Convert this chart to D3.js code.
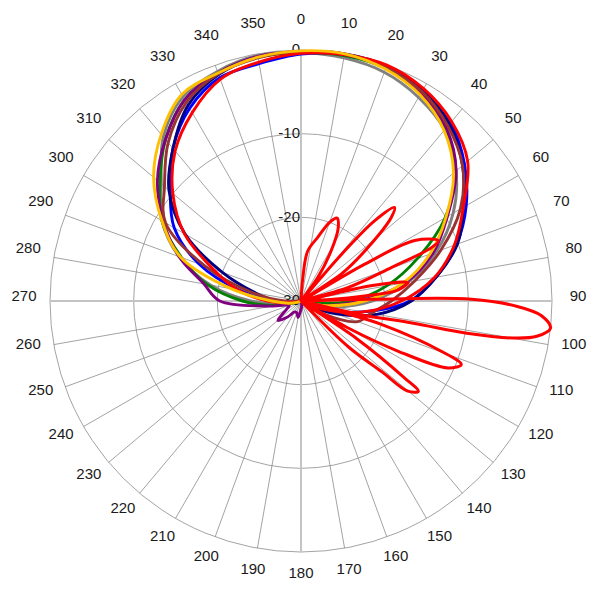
<!DOCTYPE html>
<html>
<head>
<meta charset="utf-8">
<script src="https://cdn.jsdelivr.net/npm/d3@7"></script>
<style>
  body { margin: 0; background: #fff; }
  svg { display: block; }
</style>
</head>
<body>
<svg id="chart"></svg>
<script>
const width = 600;
const height = 600;
const cx = 301, cy = 301, outerR = 251;

// angle categories (degrees, clockwise from top)
const angles = [0, 10, 20, 30, 40, 50, 60, 70, 80, 90, 100, 110, 120, 130, 140, 150, 160, 170,
  180, 190, 200, 210, 220, 230, 240, 250, 260, 270, 280, 290, 300, 310, 320, 330, 340, 350];

// radial ticks (dB)
const levelTicks = [-30, -20, -10, 0];

// levels in dB for each trace, one per angle above
const grayLevels = [-0.3, -0.5, -0.9, -1.9, -3.3, -5.8, -9.0, -12.8, -17.0, -21.5, -26, -29, -30, -30, -30, -30, -30, -30,
  -30, -30, -30, -30, -30, -30, -30, -30, -28, -24, -19, -14.5, -10.8, -8.2, -4.4, -1.8, -0.8, -0.2];
const blueLevels = [-0.5, -0.1, -0.2, -0.8, -2.2, -4.5, -7.2, -10.2, -13.6, -17.0, -22.5, -27, -30, -30, -30, -30, -30, -30,
  -30, -30, -30, -30, -30, -30, -30, -30, -29.5, -27, -22.5, -17.0, -12.5, -9.6, -6.2, -3.4, -1.6, -1.2];
const navyLevels = [-0.2, 0, -0.1, -0.9, -2.4, -4.8, -7.6, -10.1, -13.6, -16.8, -20.8, -25.5, -29, -30, -30, -30, -30, -30,
  -30, -30, -30, -30, -30, -30, -30, -30, -29.5, -27, -24.5, -20, -14.0, -9.4, -6.2, -3.0, -1.2, -0.4];
const purpleLevels = [-0.2, -0.1, -0.3, -1.3, -3.0, -5.8, -9.8, -13.2, -17.3, -23, -27, -29.5, -30, -30, -30, -30, -30, -29.5,
  -29, -28, -28.5, -28.5, -27.5, -26.4, -28, -28.5, -26.5, -20.3, -18.2, -14.5, -11.0, -7.6, -4.8, -2.2, -1.0, -0.3];
const greenLevels = [-0.3, -0.2, -0.4, -1.4, -3.2, -6.0, -10.1, -15.2, -19.6, -24, -28.5, -30, -30, -30, -30, -30, -30, -30,
  -30, -30, -30, -30, -30, -30, -30, -30, -27, -23, -18.6, -14.8, -10.8, -8.0, -4.8, -2.2, -1.0, -0.4];
const brownLevels = [-0.2, 0, -0.3, -1.1, -2.7, -4.8, -8.0, -12.2, -16.2, -19.2, -21.5, -22.8, -27, -30, -30, -30, -30, -30,
  -30, -30, -30, -30, -30, -30, -30, -30, -30, -28, -24, -17.8, -11.3, -8.7, -5.3, -2.6, -1.1, -0.5];
const redLevels = [-0.4, -0.1, 0, -0.7, -2.0, -4.0, -7.6, -10.5, -13.8, -18, -22.5, -27, -30, -30, -30, -30, -30, -30,
  -30, -30, -30, -30, -30, -30, -30, -30, -29, -26, -22.3, -18.8, -13.9, -10.0, -6.6, -4.0, -1.8, -1.0];
const goldLevels = [-0.1, 0, -0.5, -1.55, -3.4, -6.2, -10.0, -13.6, -17.6, -22.4, -26.8, -29.5, -30, -30, -30, -30, -30, -30,
  -30, -30, -30, -30, -30, -30, -30, -29.5, -28.5, -26.5, -21.5, -14.7, -10.8, -7.0, -4.0, -1.5, -1.0, -0.4];

// the array trace with its narrow side lobes (angle, dB)
const lobeAngles = [0, 3, 4.5, 7.6, 14.8, 20, 23.5, 27, 31, 35.6, 38,
  40.5, 41.2, 42.5, 45, 47.2, 51.4, 56, 59,
  60, 62, 66.3, 67.7, 69.7, 74, 77,
  77.5, 78.5, 80.3, 82.5, 84, 85.5, 87, 88.3,
  88.6, 89.4, 91.3, 93.5, 96.2, 98.5, 99.9, 101, 101.2, 103, 104.5,
  105.5, 106.2, 109.7, 111.6, 114.5, 117.3, 119.8, 121.5,
  124, 126.6, 127.6, 130.2, 131.2, 134, 137,
  180, 270];
const lobeLevels = [-30, -30, -27.2, -24, -22.1, -20, -19.2, -20.2, -23, -26.6, -30,
  -26.3, -21.5, -17, -14.2, -15.3, -19.8, -24, -30,
  -21.2, -14.6, -12.1, -13.1, -18.5, -24.2, -30,
  -22, -19.5, -17, -17.8, -18.7, -22.4, -26.5, -30,
  -22, -9.6, -4.4, -1.2, 0, -1.5, -4.3, -9.8, -16.3, -23, -30,
  -24.5, -20, -12.2, -9.4, -10.7, -16.9, -23.5, -30,
  -22, -14.6, -12.3, -13.3, -17.2, -22, -30,
  -30, -30];

const traces = [
  {name: "gray", color: "#808080", values: grayLevels},
  {name: "blue", color: "#0000ff", values: blueLevels},
  {name: "navy", color: "#000080", values: navyLevels},
  {name: "green", color: "#008000", values: greenLevels},
  {name: "purple", color: "#800080", values: purpleLevels},
  {name: "brown", color: "#993333", values: brownLevels},
  {name: "red", color: "#ff0000", values: redLevels},
  {name: "gold", color: "#ffc000", values: goldLevels}
];

const svg = d3.select("#chart")
  .attr("width", width)
  .attr("height", height)
  .attr("viewBox", [0, 0, width, height])
  .style("font-family", "Arial, 'Liberation Sans', sans-serif");

const g = svg.append("g").attr("transform", `translate(${cx},${cy})`);

// radial scale: -30 dB at the centre, 0 dB on the outer ring
const r = d3.scaleLinear().domain([-30, 0]).range([0, outerR]).clamp(true);
const rad = d => d * Math.PI / 180;

// rings
g.append("g")
  .selectAll("circle")
  .data(levelTicks.filter(d => d > -30))
  .join("circle")
  .attr("r", d => r(d))
  .attr("fill", "none")
  .attr("stroke", "#8c8c8c")
  .attr("stroke-width", 0.8);

// spokes every 10 degrees, main axes lighter and wider
g.append("g")
  .selectAll("line")
  .data(angles)
  .join("line")
  .attr("x2", d => outerR * Math.sin(rad(d)))
  .attr("y2", d => -outerR * Math.cos(rad(d)))
  .attr("stroke", d => d % 90 === 0 ? "#c4c4c4" : "#8c8c8c")
  .attr("stroke-width", d => d % 90 === 0 ? 2 : 0.8);

// angle labels
g.append("g")
  .attr("font-size", 15)
  .attr("fill", "#1a1a1a")
  .attr("text-anchor", "middle")
  .selectAll("text")
  .data(angles)
  .join("text")
  .attr("x", d => 277 * Math.sin(rad(d)))
  .attr("y", d => -277 * Math.cos(rad(d)) - 5.5)
  .attr("dy", "0.35em")
  .text(d => d);

// level labels along the 0 degree axis
g.append("g")
  .attr("font-size", 15)
  .attr("fill", "#1a1a1a")
  .attr("text-anchor", "end")
  .selectAll("text")
  .data(levelTicks)
  .join("text")
  .attr("x", -1)
  .attr("y", d => -r(d) - 1)
  .attr("dy", "0.35em")
  .text(d => d);

// traces
const line = d3.lineRadial()
  .angle(d => rad(d[0]))
  .radius(d => r(d[1]))
  .curve(d3.curveCatmullRomClosed.alpha(0.5));

g.append("g")
  .attr("fill", "none")
  .attr("stroke-linejoin", "round")
  .selectAll("path")
  .data(traces)
  .join("path")
  .attr("stroke", d => d.color)
  .attr("stroke-width", 2.9)
  .attr("d", d => line(angles.map((a, i) => [a, d.values[i]])));

// array trace on top
g.append("path")
  .attr("fill", "none")
  .attr("stroke", "#ff0000")
  .attr("stroke-width", 3)
  .attr("stroke-linejoin", "round")
  .attr("d", line(lobeAngles.map((a, i) => [a, lobeLevels[i]])));
</script>
</body>
</html>
